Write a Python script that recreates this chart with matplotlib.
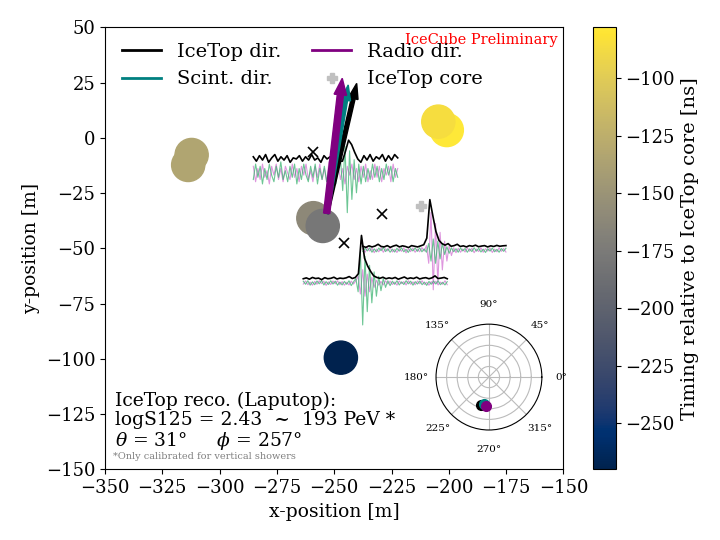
import numpy as np
import matplotlib
matplotlib.use('Agg')
import matplotlib.pyplot as plt
from matplotlib.lines import Line2D

plt.rcParams['font.family'] = 'serif'
plt.rcParams['font.serif'] = ['DejaVu Serif']
plt.rcParams['mathtext.fontset'] = 'dejavuserif'

# scintillator panels: position [m] and timing relative to IceTop core [ns]
scint_x = [-313.7, -312.2, -200.9, -204.6, -259.1, -255.0, -247.1]
scint_y = [-12.2, -7.7, 3.6, 7.4, -36.3, -39.8, -99.4]
scint_t = [-134, -134, -78, -86, -161, -178, -270]

# radio antennas
ant_x = [-259.4, -229.3, -245.7]
ant_y = [-6.5, -34.5, -47.6]

# IceTop core
core_x = [-212.2]
core_y = [-30.8]

# reconstructed directions (projected arrows)
arrow_x0 = -253.3
arrow_y0 = -34.1
dir_labels = ['IceTop dir.', 'Scint. dir.', 'Radio dir.']
dir_colors = ['black', 'teal', 'purple']
dir_dx = [13.1, 9.4, 6.8]
dir_dy = [58.8, 58.1, 61.1]
dir_width = [1.7, 1.7, 2.7]
dir_head_w = [4.3, 4.3, 5.5]
dir_head_l = [7.0, 7.0, 7.5]

# directions for the polar inset (deg)
dir_azimuth = [254, 259, 265]
dir_zenith = [33.5, 31.0, 33.5]

# radio traces, drawn next to each antenna
trace_x0 = [-285.3, -237.5, -263.5]
trace_x1 = [-222.3, -175.1, -200.7]
trace_base = [-10.0, -49.3, -63.9]
trace_mid = [-15.8, -50.7, -65.6]

env1 = [1.5, -0.5, 2.0, 0.0, 2.5, -1.0, 1.0, 2.5, -0.5, 1.5, 0.0, 2.0, -1.0, 1.0, 0.5, 2.0,
        -0.5, 1.5, 0.0, 2.5, 0.0, 1.0, -1.0, 2.0, 0.5, 1.5, -0.5, 0.0, -0.5, -0.5, 4.0, 9.0,
        7.0, 3.5, 0.5, -1.0, 2.0, 0.0, 2.5, -0.5, 1.5, 0.5, 2.5, -0.5, 2.0, 0.0, 2.5, 1.0]
pol1a = [3, -4, 2, -3, 4, -2, 1, -5, 3, -1, 4, -3, 2, -4, 3, 0, -3, 4, -2, 2, -4, 3, -1, 4,
         -3, 1, -4, 3, -2, 4, -3, 2, -4, 5, -5, 3, -2, 4, -3, 2, -5, 3, -1, 4, -3, 2, -4, 3,
         -2, 4, -4, 1, -3, 4, -2, 3, -4, 2, -1, 3, -4, 4, -2, 2]
pol1b = [-3, 4, -2, 3, -5, 2, -3, 4, -1, -4, 3, -2, 5, -3, 1, -4, 3, -2, 4, -5, 2, -3, 4, -1,
         -4, 3, -2, 4, -5, 2, -3, 3, -4, 2, -2, 4, -5, 3, 7, -8, 12, -18, 10, -12, 6, -9, 4, -5,
         3, -4, 2, -3, 4, -2, 3, -4, 2, -3, 4, -1, 3, -4, 2, -2]

env2 = [0.3, -0.2, 0.5, 0.0, 0.4, 1.2, 0.2, 0.0, 0.6, -0.2, 0.4, 0.8, 0.0, 0.5, 0.2, -0.3,
        0.6, 0.3, 0.0, 0.5, 1.0, 4.0, 21.4, 14.0, 7.0, 3.0, 1.5, 0.8, 1.5, 0.3, 0.6, 1.2,
        0.2, 0.5, 0.0, 0.6, 0.3, 0.8, 0.1, 0.4, 0.6, 0.0, 0.5, 0.2, 0.7, 0.3, 0.5, 0.6]
pol2a = [0.5, -1.0, 1.0, -0.5, 0.8, -1.2, 0.4, -0.8, 1.0, -1.0, 0.6, -0.4, 1.2, -0.9, 0.3, -1.1,
         0.7, -0.6, 1.0, -1.3, 0.5, -0.7, 0.9, -1.0, 0.4, -0.8, 1.1, -0.5, 2.0, -6.0, 17.0, -18.0,
         12.0, -15.0, 8.0, -9.0, 4.0, -5.0, 2.0, -2.5, 1.0, -1.2, 0.8, -1.0, 0.5, -0.9, 1.0, -0.6,
         0.8, -1.2, 0.4, -0.7, 1.0, -1.0, 0.6, -0.5, 0.9, -1.1, 0.4, -0.8, 1.0, -0.6, 0.7, -0.9]
pol2b = [-0.6, 0.8, -0.4, 1.0, -1.0, 0.5, -0.8, 0.9, -0.3, 1.1, -0.7, 0.6, -1.0, 0.4, -0.9, 0.8,
         -0.5, 1.0, -0.8, 0.3, -1.1, 0.7, -0.4, 0.9, -0.6, 1.0, -0.8, 0.5, -1.0, 3.0, -5.0, 5.0,
         -6.0, 4.0, -4.0, 3.0, -2.0, 1.5, -1.5, 1.0, -0.8, 0.6, -1.0, 0.9, -0.4, 0.7, -1.0, 0.5,
         -0.7, 1.0, -0.5, 0.8, -0.9, 0.4, -1.1, 0.6, -0.5, 0.9, -0.8, 0.3, -1.0, 0.7, -0.6, 0.8]

env3 = [0.2, 0.6, 0.0, 0.8, 0.3, 0.5, -0.2, 0.7, 0.2, 0.4, 0.9, 0.1, 0.5, 0.3, 0.6, 1.2,
        0.3, 0.8, 2.5, 19.8, 9.5, 6.0, 3.5, 1.5, 0.8, 0.4, 0.9, 0.2, 0.6, 0.3, 0.8, 0.0,
        0.5, 1.0, 0.2, 0.6, 0.3, 0.9, 0.1, 0.5, 0.7, 0.2, 0.6, 1.5, 0.3, 0.5, 0.8, 0.2]
pol3a = [-0.5, 0.9, -0.8, 0.4, -1.0, 0.7, -0.6, 1.0, -0.3, 0.8, -1.1, 0.5, -0.7, 0.9, -0.4, 1.0,
         -0.8, 0.6, -1.0, 0.3, -0.9, 0.8, -0.5, 1.0, 3.0, -5.0, 6.0, -6.0, 4.0, -4.0, 2.5, -2.0,
         1.2, -1.0, 0.7, -0.9, 1.0, -0.5, 0.8, -0.7, 0.4, -1.0, 0.9, -0.3, 0.6, -0.9, 1.0, -0.6,
         0.5, -0.8, 0.9, -0.4, 1.0, -0.7, 0.3, -1.0, 0.6, -0.5, 0.8, -0.9, 0.4, -0.6, 1.0, -0.8]
pol3b = [0.8, -0.6, 1.0, -1.0, 0.5, -0.8, 0.9, -0.4, 1.1, -0.9, 0.6, -0.7, 1.0, -0.5, 0.8, -1.0,
         0.4, -0.9, 0.7, -0.6, 1.0, -1.2, 0.5, 2.0, -4.0, 14.0, -19.0, 12.0, -13.0, 8.0, -9.0, 5.0,
         -6.0, 3.0, -3.5, 2.0, -2.0, 1.0, -1.2, 0.8, -0.6, 1.0, -0.9, 0.5, -0.7, 1.0, -0.4, 0.8,
         -1.0, 0.6, -0.5, 0.9, -0.8, 0.4, -1.1, 0.7, -0.6, 0.9, -0.5, 1.0, -0.8, 0.3, -0.9, 0.6]

envs = [env1, env2, env3]
pols_a = [pol1a, pol2a, pol3a]
pols_b = [pol1b, pol2b, pol3b]

fig = plt.figure(figsize=(7.2, 5.4), dpi=100)
ax = fig.add_axes([0.1458, 0.1306, 0.6368, 0.8185])

sc = ax.scatter(scint_x, scint_y, c=scint_t, cmap='cividis', s=570, zorder=2)

#radio traces
for i in range(3):
    xa = np.linspace(trace_x0[i], trace_x1[i], len(pols_a[i]))
    xe = np.linspace(trace_x0[i], trace_x1[i], len(envs[i]))
    ax.plot(xa, trace_mid[i] + np.array(pols_a[i]), color='#c850c8', alpha=0.6, lw=0.8, zorder=3)
    ax.plot(xa, trace_mid[i] + np.array(pols_b[i]), color='#3cb371', alpha=0.75, lw=0.8, zorder=3)
    ax.plot(xe, trace_base[i] + np.array(envs[i]), color='black', lw=1.2, zorder=4)

ax.plot(ant_x, ant_y, 'x', color='black', markersize=7, mew=1.2, zorder=4)
ax.plot(core_x, core_y, 'P', color='silver', markersize=7, zorder=4)

# direction arrows
for i in range(3):
    ax.arrow(arrow_x0, arrow_y0, dir_dx[i], dir_dy[i], width=dir_width[i],
             head_width=dir_head_w[i], head_length=dir_head_l[i],
             length_includes_head=True, color=dir_colors[i], zorder=5 + i)

ax.set_xlim(-350, -150)
ax.set_ylim(-150, 50)
ax.set_xticks(np.arange(-350, -149, 25))
ax.set_yticks(np.arange(-150, 51, 25))
ax.tick_params(labelsize=13)
ax.set_xlabel('x-position [m]', fontsize=13.5)
ax.set_ylabel('y-position [m]', fontsize=13.5)

handles = [Line2D([], [], color='black', lw=2),
           Line2D([], [], color='teal', lw=2),
           Line2D([], [], color='purple', lw=2),
           Line2D([], [], marker='P', color='silver', ls='none', markersize=7)]
ax.legend(handles, ['IceTop dir.', 'Scint. dir.', 'Radio dir.', 'IceTop core'],
          loc='upper left', bbox_to_anchor=(0.0, 1.005), ncol=2, frameon=False,
          fontsize=14, columnspacing=1.6)

ax.text(0.988, 0.972, 'IceCube Preliminary', color='red', fontsize=10.5,
        ha='right', va='center', transform=ax.transAxes)

ax.text(0.022, 0.040, 'IceTop reco. (Laputop):\nlogS125 = 2.43  ~  193 PeV *\n'
        r'$\theta$ = 31°     $\phi$ = 257°', fontsize=13.5, ha='left', va='bottom',
        linespacing=1.05, transform=ax.transAxes)
ax.text(0.018, 0.029, '*Only calibrated for vertical showers', fontsize=7, color='gray',
        ha='left', va='center', transform=ax.transAxes)

cax = fig.add_axes([0.824, 0.1306, 0.0311, 0.8185])
cb = fig.colorbar(sc, cax=cax)
cb.ax.tick_params(labelsize=13)
cb.set_label('Timing relative to IceTop core [ns]', fontsize=14)

# polar inset with the arrival directions
pax = fig.add_axes([0.6056, 0.2037, 0.147, 0.196], projection='polar')
for i in range(3):
    pax.plot(np.radians(dir_azimuth[i]), np.sin(np.radians(dir_zenith[i])), 'o',
             color=dir_colors[i], markersize=7)
pax.set_rmax(1)
pax.set_rticks([0.2, 0.4, 0.6, 0.8])
pax.set_yticklabels([])
pax.tick_params(labelsize=7.5)
pax.grid(color='#bbbbbb')

fig.savefig('out.png', dpi=100)
